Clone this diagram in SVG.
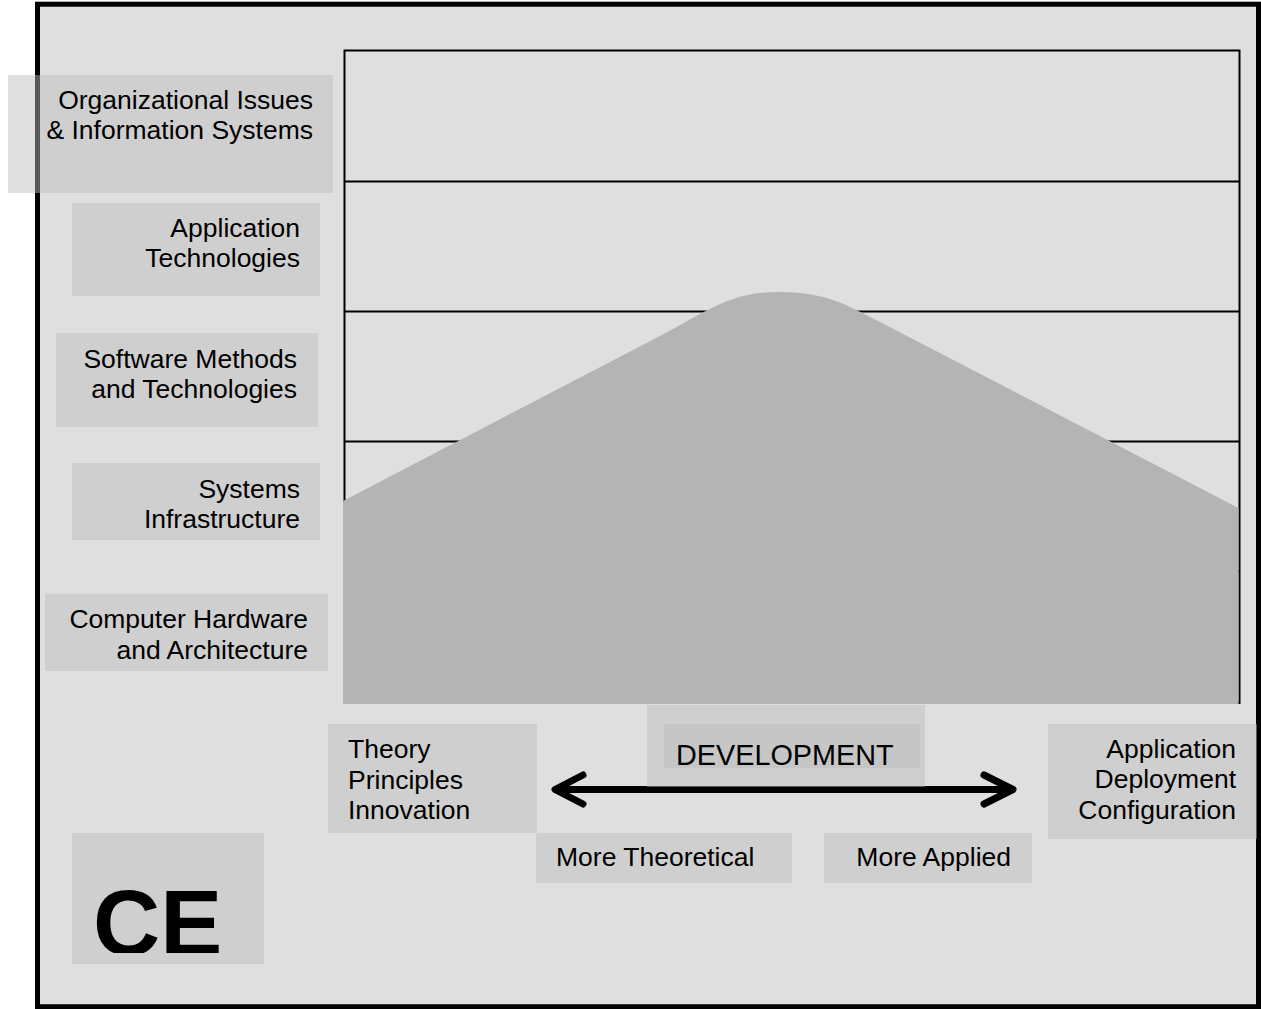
<svg xmlns="http://www.w3.org/2000/svg" width="1261" height="1009" viewBox="0 0 1261 1009">
<style>
.box{fill:#bdbdbd;fill-opacity:0.47}
.t{font-family:"Liberation Sans",Arial,sans-serif;font-size:26.5px;fill:#000}
.r{text-anchor:end}
.grid{stroke:#000;stroke-width:2;fill:none}
.arrow{stroke:#000;stroke-width:7;fill:none;stroke-linecap:round;stroke-linejoin:round}
</style>
<defs>
<clipPath id="ceclip"><rect x="72" y="833" width="192" height="120"/></clipPath>
</defs>
<rect x="0" y="0" width="1261" height="1009" fill="#fff"/>
<rect id="frame" x="37.5" y="4.2" width="1221" height="1002.5" fill="#dfdfdf" stroke="#000" stroke-width="5"/>
<g id="chart">
<rect x="344.5" y="50.5" width="895" height="652.5" class="grid"/>
<line x1="344.5" y1="181.5" x2="1239.5" y2="181.5" class="grid"/>
<line x1="344.5" y1="311.5" x2="1239.5" y2="311.5" class="grid"/>
<line x1="344.5" y1="441.5" x2="1239.5" y2="441.5" class="grid"/>
<line x1="344.5" y1="571.5" x2="1239.5" y2="571.5" class="grid"/>
<path id="mountain" d="M343,501 L660,336 C705,312.6 730,292 778,292 C826,292 846,304.4 880,322 L1238.5,508 L1238.5,704 L343,704 Z" fill="#b4b4b4"/>
</g>
<g id="connectors">
<path class="arrow" d="M556,789.5 L1012,789.5"/>
<path class="arrow" d="M583,775 L555,789.5 L583,804"/>
<path class="arrow" d="M984,775 L1013,789.5 L984,804"/>
</g>
<g id="n-org">
<rect class="box" x="8" y="75" width="325" height="118"/>
<text class="t r" x="313" y="109">Organizational Issues</text>
<text class="t r" x="313" y="139">&amp; Information Systems</text>
</g>
<g id="n-app">
<rect class="box" x="72" y="203" width="248" height="93"/>
<text class="t r" x="300" y="237">Application</text>
<text class="t r" x="300" y="267">Technologies</text>
</g>
<g id="n-sw">
<rect class="box" x="56" y="333" width="262" height="94"/>
<text class="t r" x="297" y="368">Software Methods</text>
<text class="t r" x="297" y="398">and Technologies</text>
</g>
<g id="n-sys">
<rect class="box" x="72" y="463" width="248" height="77"/>
<text class="t r" x="300" y="498">Systems</text>
<text class="t r" x="300" y="528">Infrastructure</text>
</g>
<g id="n-hw">
<rect class="box" x="45" y="594" width="283" height="77"/>
<text class="t r" x="308" y="628">Computer Hardware</text>
<text class="t r" x="308" y="659">and Architecture</text>
</g>
<g id="n-theory">
<rect class="box" x="328" y="724" width="209" height="109"/>
<text class="t" x="348" y="758">Theory</text>
<text class="t" x="348" y="789">Principles</text>
<text class="t" x="348" y="819">Innovation</text>
</g>
<g id="n-dev">
<rect class="box" x="647" y="705" width="278" height="82"/>
<rect class="box" x="664" y="724" width="256" height="44"/>
<text class="t" x="676" y="765" style="font-size:28.8px">DEVELOPMENT</text>
</g>
<g id="n-applied-right">
<rect class="box" x="1048" y="724" width="209" height="115"/>
<text class="t r" x="1236" y="758">Application</text>
<text class="t r" x="1236" y="788">Deployment</text>
<text class="t r" x="1236" y="819">Configuration</text>
</g>
<g id="n-more-theo">
<rect class="box" x="536" y="833" width="256" height="50"/>
<text class="t" x="556" y="866">More Theoretical</text>
</g>
<g id="n-more-app">
<rect class="box" x="824" y="833" width="208" height="50"/>
<text class="t r" x="1011" y="866">More Applied</text>
</g>
<g id="n-ce">
<rect class="box" x="72" y="833" width="192" height="131"/>
<text x="93" y="955" clip-path="url(#ceclip)" style="font-family:'Liberation Sans',Arial,sans-serif;font-weight:bold;font-size:93px;fill:#000">CE</text>
</g>
</svg>
